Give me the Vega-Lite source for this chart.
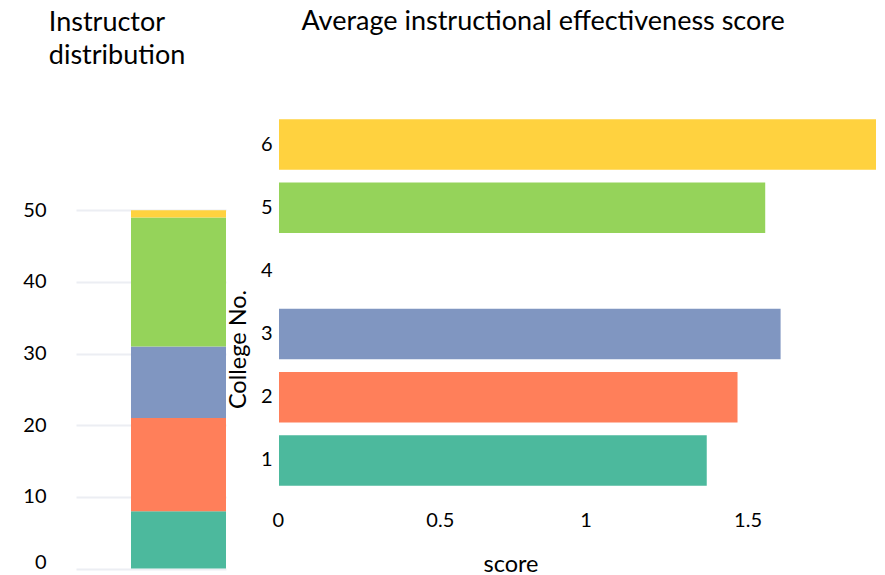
{
  "$schema": "https://vega.github.io/schema/vega-lite/v6.json",
  "padding": {"left": 22, "top": 8, "right": 5, "bottom": 5},
  "data": {
    "values": [
      {"college": "1", "instructors": 8, "score": 1.39},
      {"college": "2", "instructors": 13, "score": 1.49},
      {"college": "3", "instructors": 10, "score": 1.63},
      {"college": "4", "instructors": 0, "score": null},
      {"college": "5", "instructors": 18, "score": 1.58},
      {"college": "6", "instructors": 1, "score": 1.94}
    ]
  },
  "config": {
    "font": "Lato",
    "view": {"stroke": null},
    "axis": {
      "labelFont": "Lato",
      "titleFont": "Lato",
      "labelColor": "#000000",
      "titleColor": "#000000",
      "domain": false,
      "ticks": false,
      "labelFontSize": 20,
      "titleFontSize": 23.5,
      "titleFontWeight": "normal"
    },
    "title": {
      "font": "Lato",
      "fontSize": 27,
      "fontWeight": "normal",
      "anchor": "start",
      "color": "#000000"
    }
  },
  "spacing": 0,
  "hconcat": [
    {
      "width": 150,
      "height": 455.6,
      "title": {
        "text": ["Instructor", "distribution"],
        "dx": 26,
        "offset": 43,
        "lineHeight": 33
      },
      "mark": {"type": "bar"},
      "encoding": {
        "x": {
          "datum": "all",
          "type": "nominal",
          "scale": {"paddingInner": 0, "paddingOuter": 0.2895, "align": 1},
          "axis": null
        },
        "y": {
          "field": "instructors",
          "type": "quantitative",
          "stack": "zero",
          "scale": {"domain": [0, 63.58], "nice": false},
          "axis": {
            "title": null,
            "values": [0, 10, 20, 30, 40, 50],
            "grid": true,
            "gridColor": "#eceef3",
            "gridWidth": 2,
            "labelPadding": 30,
            "labelBaseline": {
              "condition": {"test": "datum.value === 0", "value": "alphabetic"},
              "value": "middle"
            }
          }
        },
        "color": {
          "field": "college",
          "type": "nominal",
          "scale": {
            "domain": ["1", "2", "3", "4", "5", "6"],
            "range": ["#4cb99d", "#ff7f5a", "#8096c1", "#e78ac3", "#95d35a", "#ffd23f"]
          },
          "legend": null
        },
        "order": {"field": "college", "type": "ordinal", "sort": "ascending"}
      }
    },
    {
      "width": 597,
      "height": 379,
      "title": {
        "text": "Average instructional effectiveness score",
        "dx": 75,
        "offset": 77
      },
      "mark": {"type": "bar"},
      "encoding": {
        "y": {
          "field": "college",
          "type": "nominal",
          "scale": {
            "domain": ["6", "5", "4", "3", "2", "1"],
            "paddingInner": 0.2,
            "paddingOuter": 0.1
          },
          "axis": {
            "title": "College No.",
            "titleY": 236,
            "labelAngle": 0,
            "labelPadding": 7,
            "titlePadding": 10
          }
        },
        "x": {
          "field": "score",
          "type": "quantitative",
          "scale": {"zero": true, "nice": false},
          "axis": {
            "values": [0, 0.5, 1, 1.5],
            "format": "~g",
            "grid": false,
            "labelAlign": "left",
            "labelOffset": -7,
            "labelPadding": 18,
            "labelFlush": false,
            "title": "score",
            "titleX": 204,
            "titleAlign": "left",
            "titlePadding": 22
          }
        },
        "color": {
          "field": "college",
          "type": "nominal",
          "scale": {
            "domain": ["1", "2", "3", "4", "5", "6"],
            "range": ["#4cb99d", "#ff7f5a", "#8096c1", "#e78ac3", "#95d35a", "#ffd23f"]
          },
          "legend": null
        }
      }
    }
  ]
}
